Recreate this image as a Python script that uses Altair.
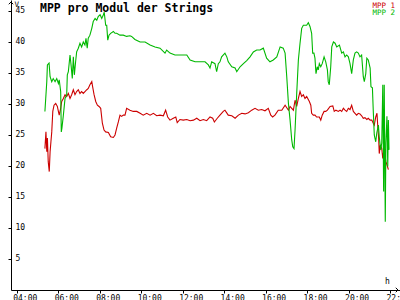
import altair as alt
import pandas as pd

# MPP 2 (green) - hours, volts
g_hours = [5.36, 5.45, 5.48, 5.56, 5.61, 5.69, 5.76, 5.85, 5.93, 6.01, 6.05, 6.12, 6.15, 6.18, 6.25,
           6.33, 6.41, 6.44, 6.49, 6.57, 6.62, 6.68, 6.73, 6.78, 6.84, 6.89, 6.97, 7.05, 7.13, 7.21,
           7.29, 7.34, 7.40, 7.45, 7.53, 7.62, 7.69, 7.78, 7.86, 7.93, 8.02, 8.10, 8.18, 8.22, 8.29,
           8.34, 8.39, 8.45, 8.53, 8.66, 8.74, 8.82, 8.98, 9.14, 9.30, 9.46, 9.54, 9.70, 9.95, 10.19,
           10.43, 10.67, 10.91, 11.15, 11.23, 11.39, 11.63, 11.87, 12.20, 12.36, 12.60, 12.84, 13.08,
           13.24, 13.32, 13.40, 13.56, 13.64, 13.72, 13.80, 13.88, 14.04, 14.13, 14.20, 14.37, 14.53,
           14.61, 14.77, 14.93, 15.09, 15.25, 15.41, 15.57, 15.73, 15.89, 16.05, 16.21, 16.37, 16.54,
           16.70, 16.85, 16.94, 17.02, 17.10, 17.18, 17.26, 17.31, 17.37, 17.42, 17.50, 17.58, 17.66,
           17.74, 17.82, 17.98, 18.06, 18.14, 18.22, 18.27, 18.33, 18.38, 18.43, 18.49, 18.54, 18.59,
           18.66, 18.73, 18.82, 18.90, 18.98, 19.02, 19.07, 19.14, 19.19, 19.27, 19.35, 19.43, 19.56,
           19.67, 19.75, 19.83, 19.91, 19.99, 20.07, 20.15, 20.23, 20.31, 20.39, 20.47, 20.55, 20.63,
           20.71, 20.76, 20.83, 20.88, 20.95, 21.04, 21.08, 21.15, 21.19, 21.24, 21.31, 21.36, 21.44,
           21.48, 21.55, 21.60, 21.65, 21.69, 21.72, 21.77, 21.80, 21.85, 21.89, 21.92, 21.95]
g_vals = [28.8, 33.6, 36.3, 36.6, 34.4, 33.6, 34.1, 33.6, 34.1, 33.3, 33.9, 32.0, 25.5, 26.1, 28.2,
          30.9, 31.5, 34.7, 35.2, 37.9, 36.3, 34.1, 37.6, 34.7, 36.8, 38.4, 39.0, 39.8, 39.2, 40.0,
          39.5, 40.6, 39.0, 40.6, 41.1, 42.2, 43.3, 43.8, 43.5, 44.1, 44.4, 43.8, 44.4, 44.8, 42.7,
          42.7, 40.3, 41.1, 41.4, 41.7, 41.4, 41.4, 41.1, 41.1, 40.9, 41.0, 40.9, 40.4, 40.0, 40.0,
          39.5, 39.2, 39.0, 38.2, 38.7, 38.2, 37.9, 37.9, 37.9, 37.1, 36.8, 36.8, 36.8,
          36.3, 35.8, 36.8, 36.5, 35.2, 36.5, 36.8, 37.6, 38.2, 37.6, 36.8, 36.0, 35.8,
          35.2, 36.0, 36.5, 37.0, 37.6, 38.4, 38.7, 38.7, 39.0, 37.4, 36.8, 37.1, 37.6,
          39.2, 39.0, 38.2, 34.4, 30.1, 27.4, 24.2, 23.1, 22.8, 25.8, 31.7, 37.1, 39.8,
          42.2, 42.7, 42.7, 43.1, 42.5, 41.4, 38.2, 38.2, 37.4, 34.9, 36.0, 35.5, 36.5,
          36.0, 36.5, 37.6, 36.8, 35.5, 33.6, 33.1, 36.0, 39.2, 40.0, 39.8, 39.2, 39.5,
          38.2, 38.4, 37.6, 37.9, 37.6, 36.5, 34.9, 37.1, 38.2, 38.4, 38.2, 37.6, 37.9,
          34.4, 33.6, 34.9, 37.4, 37.1, 35.8, 32.8, 32.6, 29.0, 25.0, 23.9, 25.3, 26.6,
          24.7, 22.6, 23.7, 33.1, 15.9, 33.1, 11.0, 23.7, 28.0, 19.9, 27.4, 22.6]

# MPP 1 (red) - hours, volts
r_hours = [5.36, 5.41, 5.45, 5.48, 5.52, 5.57, 5.61, 5.65, 5.69, 5.74, 5.80, 5.88, 5.96, 6.01, 6.05,
           6.12, 6.17, 6.25, 6.33, 6.41, 6.49, 6.57, 6.65, 6.73, 6.81, 6.89, 6.97, 7.05, 7.13, 7.21,
           7.29, 7.38, 7.45, 7.53, 7.62, 7.66, 7.73, 7.81, 7.89, 7.97, 8.05, 8.13, 8.21, 8.29, 8.42,
           8.53, 8.66, 8.74, 8.82, 8.90, 8.98, 9.06, 9.14, 9.22, 9.30, 9.46, 9.62, 9.79, 9.95, 10.10,
           10.27, 10.43, 10.59, 10.75, 10.91, 11.07, 11.18, 11.28, 11.39, 11.55, 11.67, 11.74, 11.87,
           12.03, 12.20, 12.36, 12.52, 12.68, 12.84, 13.00, 13.16, 13.32, 13.45, 13.53, 13.67, 13.80,
           13.96, 14.04, 14.20, 14.37, 14.53, 14.69, 14.85, 15.01, 15.17, 15.33, 15.49, 15.65, 15.81,
           15.97, 16.13, 16.25, 16.34, 16.45, 16.61, 16.78, 16.94, 17.10, 17.18, 17.26, 17.34, 17.42,
           17.50, 17.58, 17.66, 17.74, 17.82, 17.90, 17.98, 18.11, 18.18, 18.22, 18.30, 18.38, 18.46,
           18.59, 18.66, 18.73, 18.82, 18.90, 18.98, 19.11, 19.24, 19.31, 19.39, 19.51, 19.59, 19.67,
           19.75, 19.83, 19.91, 19.99, 20.07, 20.15, 20.23, 20.31, 20.39, 20.47, 20.55, 20.63, 20.71,
           20.79, 20.88, 20.95, 21.04, 21.12, 21.19, 21.24, 21.31, 21.37, 21.41, 21.45, 21.48, 21.53,
           21.60, 21.65, 21.69, 21.76, 21.80, 21.85, 21.92]
r_vals = [22.8, 25.5, 22.3, 24.5, 20.7, 19.1, 22.3, 23.9, 25.5, 28.8, 29.8, 30.1, 29.6, 28.8, 28.2,
          29.3, 30.4, 30.9, 31.5, 31.2, 31.7, 30.9, 31.5, 32.3, 31.5, 32.0, 32.3, 31.7, 32.0, 31.7,
          32.0, 32.3, 32.5, 33.1, 33.6, 32.8, 31.5, 30.4, 29.8, 29.6, 29.3, 26.9, 25.8, 25.5, 25.4,
          24.7, 24.6, 25.0, 26.1, 27.1, 28.2, 28.0, 28.2, 28.2, 29.3, 29.0, 28.8, 28.8, 28.5, 28.2,
          28.5, 28.2, 28.5, 28.1, 28.2, 28.1, 29.0, 27.9, 27.4, 27.7, 27.9, 27.0, 27.5,
          27.4, 27.5, 27.3, 27.4, 27.7, 27.3, 27.5, 27.3, 27.9, 27.7, 27.1, 27.7, 28.2,
          28.8, 29.0, 28.2, 28.1, 27.7, 28.2, 28.5, 28.4, 28.6, 29.0, 29.3, 29.0, 29.1,
          28.9, 29.3, 28.2, 27.9, 28.2, 29.0, 29.0, 29.8, 29.0, 29.6, 29.3, 29.0, 30.6,
          29.6, 30.9, 32.0, 31.2, 31.5, 30.9, 31.2, 30.4, 29.8, 28.5, 28.2, 28.2, 27.9,
          27.9, 27.4, 28.2, 28.8, 28.8, 29.0, 29.6, 29.7, 28.8, 29.0, 28.8, 29.0, 28.8,
          29.3, 29.0, 28.8, 29.3, 29.1, 29.8, 28.8, 28.5, 28.2, 28.5, 28.4, 28.1, 27.7,
          27.8, 27.5, 27.7, 27.4, 27.4, 26.9, 26.6, 27.9, 28.5, 26.3, 24.5, 22.0, 23.4,
          22.8, 21.2, 22.3, 21.5, 20.7, 20.2, 19.4]

series_names = ["MPP 1", "MPP 2"]
series_colors = ["#cc0000", "#00b800"]
x_ticks = [4, 6, 8, 10, 12, 14, 16, 18, 20, 22]
y_ticks = [5, 10, 15, 20, 25, 30, 35, 40, 45]
title_text = "MPP pro Modul der Strings"

df = pd.concat([
    pd.DataFrame({"h": r_hours, "v": r_vals, "s": series_names[0], "o": range(len(r_hours))}),
    pd.DataFrame({"h": g_hours, "v": g_vals, "s": series_names[1], "o": range(len(g_hours))}),
])

W, H = 389, 290
mono = "DejaVu Sans Mono"

x_enc = alt.X("h:Q", scale=alt.Scale(domain=[3.725, 22.48], nice=False, zero=False),
              axis=alt.Axis(values=x_ticks, title=None, grid=False,
                            labelExpr="(datum.value < 10 ? '0' : '') + datum.value + ':00'",
                            labelAlign="left", labelOffset=-4, labelBaseline="top",
                            labelPadding=1, tickSize=3, labelFont=mono, labelFontSize=8,
                            labelColor="black", domainColor="black", tickColor="black",
                            labelFlush=False, labelOverlap=False))
y_enc = alt.Y("v:Q", scale=alt.Scale(domain=[0, 46.77], nice=False),
              axis=alt.Axis(values=y_ticks, title=None, grid=False,
                            labelAlign="left", labelPadding=-7, tickSize=3,
                            labelFont=mono, labelFontSize=8, labelColor="black",
                            domainColor="black", tickColor="black", labelFlush=False,
                            labelOverlap=False))

lines = alt.Chart(df).mark_line(strokeWidth=1.1, interpolate="linear").encode(
    x=x_enc, y=y_enc,
    color=alt.Color("s:N", scale=alt.Scale(domain=series_names, range=series_colors), legend=None),
    detail="s:N", order="o:Q",
)

title = alt.Chart(pd.DataFrame({"t": [title_text]})).mark_text(
    font=mono, fontSize=11.5, fontWeight="bold", align="left", baseline="alphabetic", color="black"
).encode(x=alt.value(29), y=alt.value(12), text="t:N")

leg1 = alt.Chart(pd.DataFrame({"t": [series_names[0]]})).mark_text(
    font=mono, fontSize=7.5, align="right", baseline="alphabetic", color=series_colors[0]
).encode(x=alt.value(384), y=alt.value(7.5), text="t:N")
leg2 = alt.Chart(pd.DataFrame({"t": [series_names[1]]})).mark_text(
    font=mono, fontSize=7.5, align="right", baseline="alphabetic", color=series_colors[1]
).encode(x=alt.value(384), y=alt.value(15), text="t:N")

unit_v = alt.Chart(pd.DataFrame({"t": ["V"]})).mark_text(
    font=mono, fontSize=7.5, align="left", baseline="alphabetic", color="black"
).encode(x=alt.value(3.5), y=alt.value(6.5), text="t:N")
unit_h = alt.Chart(pd.DataFrame({"t": ["h"]})).mark_text(
    font=mono, fontSize=8, align="left", baseline="alphabetic", color="black"
).encode(x=alt.value(374), y=alt.value(283.5), text="t:N")

arrow_up = alt.Chart(pd.DataFrame({"a": [0]})).mark_point(
    shape="M-1,1L0,0L1,1", filled=False, size=20, stroke="black", strokeWidth=1, opacity=1
).encode(x=alt.value(0), y=alt.value(2))
arrow_right = alt.Chart(pd.DataFrame({"a": [0]})).mark_point(
    shape="M-1,-1L0,0L-1,1", filled=False, size=20, stroke="black", strokeWidth=1, opacity=1
).encode(x=alt.value(387), y=alt.value(290))

chart = alt.layer(lines, title, leg1, leg2, unit_v, unit_h, arrow_up, arrow_right).properties(
    width=W, height=H,
    autosize=alt.AutoSizeParams(type="none"),
    padding={"left": 11, "top": 0, "right": 0, "bottom": 10},
    background="white",
).configure_view(stroke=None)

chart.save("out.html", embed_options={"renderer": "svg", "actions": False})
